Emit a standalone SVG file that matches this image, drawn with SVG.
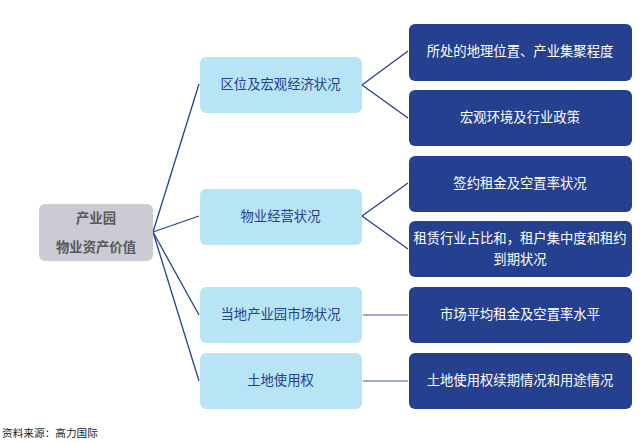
<svg xmlns="http://www.w3.org/2000/svg" width="642" height="443" viewBox="0 0 642 443">
<style>
text{font-family:"Noto Sans CJK SC",sans-serif;font-size:13.33px;text-anchor:middle}
.r{fill:#cbcbd3}.m{fill:#b8e5f6}.d{fill:#25408f}
.rt{fill:#595959;font-weight:bold}.mt{fill:#25408f}.dt{fill:#fff}
#connectors line{stroke:#25408f;stroke-width:1.3;fill:none}
#connectors line.s{stroke:#7f8fc0;stroke-width:1.5}
</style>
<rect width="642" height="443" fill="#fff"/>
<g id="connectors">
<line x1="153" y1="232" x2="199" y2="84"/>
<line x1="153" y1="232" x2="199" y2="216"/>
<line x1="153" y1="232" x2="199" y2="315"/>
<line x1="153" y1="232" x2="199" y2="381"/>
<line x1="362" y1="85" x2="408" y2="51"/>
<line x1="362" y1="85" x2="408" y2="118"/>
<line x1="362" y1="216" x2="408" y2="183"/>
<line x1="362" y1="216" x2="408" y2="249"/>
<line class="s" x1="363" y1="315" x2="408" y2="315"/>
<line class="s" x1="363" y1="381" x2="408" y2="381"/>
</g>
<g id="root"><rect class="r" x="39" y="204" width="114" height="57" rx="6"/><text class="rt" x="96" y="223">产业园</text><text class="rt" x="96" y="252">物业资产价值</text></g>
<g id="m1"><rect class="m" x="200" y="57" width="162" height="56" rx="6"/><text class="mt" x="280.500" y="89">区位及宏观经济状况</text></g>
<g id="m2"><rect class="m" x="200" y="189" width="162" height="56" rx="6"/><text class="mt" x="280.500" y="221">物业经营状况</text></g>
<g id="m3"><rect class="m" x="200" y="287" width="162" height="56" rx="6"/><text class="mt" x="280.500" y="319">当地产业园市场状况</text></g>
<g id="m4"><rect class="m" x="200" y="353" width="162" height="56" rx="6"/><text class="mt" x="280.500" y="385">土地使用权</text></g>
<g id="d1"><rect class="d" x="409" y="24" width="223" height="57" rx="6"/><text class="dt" x="520" y="56">所处的地理位置、产业集聚程度</text></g>
<g id="d2"><rect class="d" x="409" y="90" width="223" height="56" rx="6"/><text class="dt" x="520" y="122">宏观环境及行业政策</text></g>
<g id="d3"><rect class="d" x="409" y="156" width="223" height="56" rx="6"/><text class="dt" x="520" y="188">签约租金及空置率状况</text></g>
<g id="d4"><rect class="d" x="409" y="221" width="223" height="56" rx="6"/><text class="dt" x="520" y="243">租赁行业占比和&#xFF0C;租户集中度和租约</text><text class="dt" x="520" y="264">到期状况</text></g>
<g id="d5"><rect class="d" x="409" y="287" width="223" height="56" rx="6"/><text class="dt" x="520" y="319">市场平均租金及空置率水平</text></g>
<g id="d6"><rect class="d" x="409" y="353" width="223" height="56" rx="6"/><text class="dt" x="520" y="385">土地使用权续期情况和用途情况</text></g>
<text x="2" y="437" style="font-size:10.67px;text-anchor:start;fill:#222">资料来源&#xFF1A;高力国际</text>
</svg>
